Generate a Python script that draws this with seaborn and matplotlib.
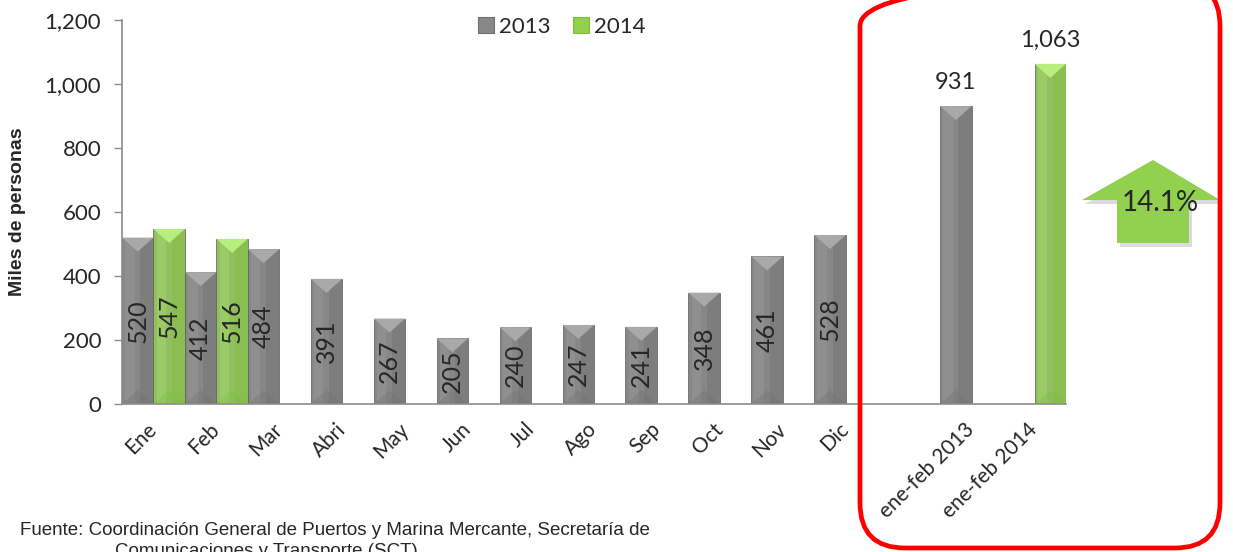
import numpy as np
import pandas as pd
import matplotlib
matplotlib.use("Agg")
import matplotlib.pyplot as plt
import seaborn as sns
from matplotlib.patches import Polygon, Rectangle, FancyBboxPatch, Patch
from matplotlib.transforms import IdentityTransform

# datos: pasajeros en cruceros (miles de personas)
meses = ["Ene", "Feb", "Mar", "Abri", "May", "Jun", "Jul", "Ago", "Sep", "Oct", "Nov", "Dic"]
valores_2013 = [520, 412, 484, 391, 267, 205, 240, 247, 241, 348, 461, 528]
valores_2014 = [547, 516]
etiquetas_acum = ["ene-feb 2013", "ene-feb 2014"]
acumulado = [931, 1063]
variacion = "14.1%"
anios = ["2013", "2014"]

categorias = meses + [""] + etiquetas_acum

filas = []
for mes, v in zip(meses, valores_2013):
    filas.append((mes, "2013", v))
for mes, v in zip(meses, valores_2014):
    filas.append((mes, "2014", v))
filas.append((etiquetas_acum[0], "2013", acumulado[0]))
filas.append((etiquetas_acum[1], "2014", acumulado[1]))
df = pd.DataFrame(filas, columns=["categoria", "anio", "valor"])

gris = "#878787"
verde = "#92D050"
colores = {"2013": gris, "2014": verde}
claro = {"2013": "#a9a9a9", "2014": "#b8ee7c"}
oscuro = {"2013": "#6f6f6f", "2014": "#7cbb3c"}
eje = "#8c8c8c"

sns.set_style("white")
plt.rcParams["font.family"] = ["Lato", "DejaVu Sans"]

W, H = 1233, 552
fig = plt.figure(figsize=(W / 100, H / 100), dpi=100)
ax = fig.add_axes([122 / W, 1 - 404 / H, (1066 - 122) / W, (404 - 20) / H])

sns.barplot(data=df, x="categoria", y="valor", hue="anio", order=categorias,
            hue_order=anios, palette=colores, width=1.0, gap=0, errorbar=None,
            edgecolor="#5a5a5a", linewidth=0.5, legend=False, ax=ax)

ax.set_xlim(-0.5, len(categorias) - 0.5)
ax.set_ylim(0, 1200)
ax.set_yticks(np.arange(0, 1201, 200))
ax.set_yticklabels([f"{v:,}" for v in range(0, 1201, 200)], fontsize=16)
ax.set_xlabel("")
ax.set_ylabel("")

ax.set_xticks(range(len(categorias)))
ax.set_xticklabels(categorias, rotation=45, ha="right", va="center",
                   rotation_mode="anchor", fontsize=15)
ax.set_xticks(np.arange(-0.5, len(categorias), 1), minor=True)
ax.tick_params(axis="x", which="major", length=0, pad=16)
ax.tick_params(axis="x", which="minor", length=7, color=eje, width=1, direction="out")
ax.tick_params(axis="y", length=6, color=eje, width=1, direction="out", pad=9, left=True)

sns.despine(ax=ax)
for s in ["left", "bottom"]:
    ax.spines[s].set_color(eje)
    ax.spines[s].set_linewidth(1.2)

# efecto biselado en las barras
bbox = ax.get_window_extent()
px_por_unidad = bbox.height / 1200
prof = 14 / px_por_unidad

barras = [p for p in ax.patches if np.isfinite(p.get_height()) and p.get_height() > 0]
for p in barras:
    x0 = p.get_x()
    w = p.get_width()
    x1 = x0 + w
    xc = x0 + w / 2
    h = p.get_height()
    anio = "2013" if np.allclose(p.get_facecolor()[:3], matplotlib.colors.to_rgb(gris)) else "2014"
    ax.add_patch(Rectangle((xc + w * 0.08, 0), w * 0.42, h, facecolor=oscuro[anio],
                           edgecolor="none", alpha=0.4, zorder=p.get_zorder() + 0.1))
    ax.add_patch(Rectangle((x0 + w * 0.1, 0), w * 0.3, h, facecolor=claro[anio],
                           edgecolor="none", alpha=0.25, zorder=p.get_zorder() + 0.1))
    ax.add_patch(Polygon([(x0, h), (x1, h), (xc, h - prof)], closed=True,
                         facecolor=claro[anio], edgecolor="none", zorder=p.get_zorder() + 0.2))
    ax.add_patch(Polygon([(x0, 0), (x1, 0), (xc, prof)], closed=True,
                         facecolor=oscuro[anio], edgecolor="none", alpha=0.3,
                         zorder=p.get_zorder() + 0.2))

    if xc > len(meses):
        ax.text(xc, h + 42, f"{h:,.0f}", ha="center", va="bottom", fontsize=17, zorder=5)
    else:
        ax.text(xc, h / 2, f"{h:,.0f}", ha="center", va="center", rotation=90,
                fontsize=18, zorder=5)

# leyenda
handles = [Patch(facecolor=colores[a], edgecolor=oscuro[a], linewidth=0.8) for a in anios]
ax.legend(handles, anios, loc="center", bbox_to_anchor=(562 / W, 1 - 27 / H),
          bbox_transform=fig.transFigure, ncol=2, frameon=False, fontsize=16,
          handlelength=0.7, handleheight=0.7, handletextpad=0.25, columnspacing=1.0)

# titulo del eje y
fig.text(18 / W, 1 - 212 / H, "Miles de personas", rotation=90, ha="center", va="center",
         fontsize=14, fontweight="bold", family="Liberation Sans")

# flecha de variacion
def px(x, y):
    return (x, H - y)

flecha = [px(1153, 160), px(1220, 200), px(1189, 200), px(1189, 243),
          px(1117, 243), px(1117, 200), px(1082, 200)]
sombra = [(x + 3, y - 4) for x, y in flecha]
fig.add_artist(Polygon(sombra, closed=True, facecolor="#9a9a9a", edgecolor="none",
                       alpha=0.35, transform=IdentityTransform(), zorder=3))
fig.add_artist(Polygon(flecha, closed=True, facecolor=verde, edgecolor="none",
                       transform=IdentityTransform(), zorder=4))
fig.text(1160 / W, 1 - 203 / H, variacion, ha="center", va="center", fontsize=20, zorder=6)

# recuadro rojo
fig.add_artist(FancyBboxPatch(px(860, 548), 360, 567,
                              boxstyle="round,pad=0,rounding_size=45",
                              facecolor="none", edgecolor="#ff0000", linewidth=3.4,
                              transform=IdentityTransform(), zorder=7))

# fuente
fig.text(20 / W, 1 - 535 / H,
         "Fuente: Coordinación General de Puertos y Marina Mercante, Secretaría de",
         ha="left", va="baseline", fontsize=13.5, family="Liberation Sans")
fig.text(115 / W, 1 - 556 / H, "Comunicaciones y Transporte (SCT)",
         ha="left", va="baseline", fontsize=13.5, family="Liberation Sans")

fig.savefig("out.png", dpi=100)
